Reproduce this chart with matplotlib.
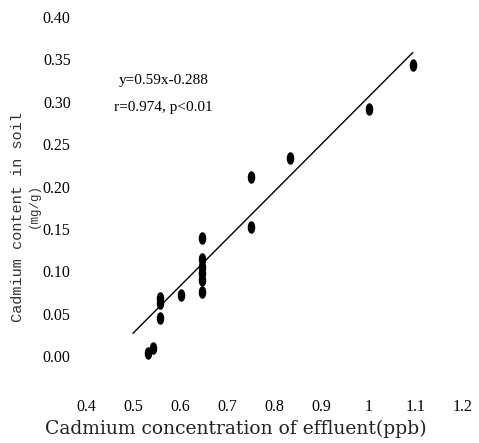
import matplotlib.pyplot as plt
from matplotlib.path import Path
from matplotlib.transforms import Affine2D

# effluent Cd (ppb) vs soil Cd (mg/g)
effluent = [0.531, 0.542, 0.557, 0.557, 0.557, 0.601,
            0.646, 0.646, 0.646, 0.646, 0.646, 0.646,
            0.750, 0.750, 0.832, 1.000, 1.093]
soil = [0.004, 0.009, 0.045, 0.062, 0.068, 0.072,
        0.139, 0.115, 0.105, 0.098, 0.090, 0.075,
        0.211, 0.152, 0.234, 0.292, 0.343]

# regression line as drawn in the figure
slope, intercept = 0.558, -0.252
line_x = [0.5, 1.093]

x_ticks = [0.4, 0.5, 0.6, 0.7, 0.8, 0.9, 1.0, 1.1, 1.2]
x_labels = ['0.4', '0.5', '0.6', '0.7', '0.8', '0.9', '1', '1.1', '1.2']
y_ticks = [0.0, 0.05, 0.10, 0.15, 0.20, 0.25, 0.30, 0.35, 0.40]
y_labels = ['0.00', '0.05', '0.10', '0.15', '0.20', '0.25', '0.30', '0.35', '0.40']

serif = 'Liberation Serif'
plt.rcParams['font.family'] = serif

fig = plt.figure(figsize=(4.79, 4.43), dpi=100)
ax = fig.add_axes([0.1795, 0.1964, 0.787, 0.765])

# tall narrow oval marker
oval = Path.unit_circle().transformed(Affine2D().scale(0.55, 1.0))
ax.plot(effluent, soil, linestyle='none', marker=oval, markersize=8,
        color='black', clip_on=False)

ax.plot(line_x, [slope * v + intercept for v in line_x], color='black', lw=1.0)

ax.set_xlim(0.4, 1.2)
ax.set_ylim(0.0, 0.40)
ax.set_xticks(x_ticks)
ax.set_xticklabels(x_labels)
ax.set_yticks(y_ticks)
ax.set_yticklabels(y_labels)
ax.tick_params(axis='x', length=0, pad=31, labelsize=11.5)
ax.tick_params(axis='y', length=0, pad=11, labelsize=11.5)
for sp in ax.spines.values():
    sp.set_visible(False)

ax.text(0.565, 0.325, 'y=0.59x-0.288', fontsize=11, ha='center', va='center')
ax.text(0.565, 0.293, 'r=0.974, p<0.01', fontsize=11, ha='center', va='center')

fig.text(0.038, 0.51, 'Cadmium content in soil', rotation=90, ha='center',
         va='center', fontsize=11, family='Liberation Mono', color='#333333')
fig.text(0.07, 0.535, '(mg/g)', rotation=90, ha='center', va='center',
         fontsize=9, family='Liberation Mono', color='#333333')
fig.text(0.493, 0.033, 'Cadmium concentration of effluent(ppb)', ha='center',
         va='center', fontsize=13.5, family='DejaVu Serif', color='#222222')

fig.savefig('out.png', dpi=100)
